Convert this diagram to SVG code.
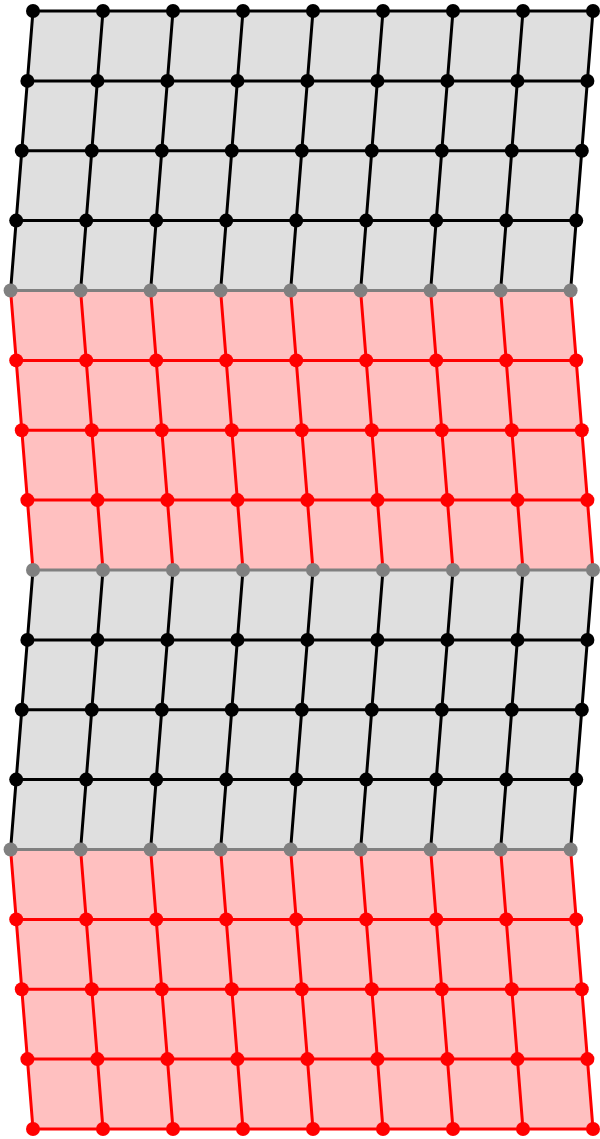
<svg xmlns="http://www.w3.org/2000/svg" width="600" height="1139" viewBox="0 0 600 1139">
<style>
.fg{fill:#dfdfdf;stroke:none}
.fp{fill:#ffc0c0;stroke:none}
line{stroke-width:3;stroke-linecap:round}
.lk{stroke:#000}
.lr{stroke:#ff0000}
.lg{stroke:#808080}
circle{r:7px}
.k{fill:#000}
.r{fill:#ff0000}
.g{fill:#808080}
</style>
<g id="regions">
<polygon class="fg" points="33,11 593,11 570.6,290.5 10.6,290.5"/>
<polygon class="fp" points="10.6,290.5 570.6,290.5 593,570 33,570"/>
<polygon class="fg" points="33,570 593,570 570.6,849.5 10.6,849.5"/>
<polygon class="fp" points="10.6,849.5 570.6,849.5 593,1129 33,1129"/>
</g>
<g id="connectors">
<g class="lk">
<line x1="33" y1="11" x2="10.6" y2="290.5"/><line x1="103" y1="11" x2="80.6" y2="290.5"/><line x1="173" y1="11" x2="150.6" y2="290.5"/><line x1="243" y1="11" x2="220.6" y2="290.5"/><line x1="313" y1="11" x2="290.6" y2="290.5"/><line x1="383" y1="11" x2="360.6" y2="290.5"/><line x1="453" y1="11" x2="430.6" y2="290.5"/><line x1="523" y1="11" x2="500.6" y2="290.5"/><line x1="593" y1="11" x2="570.6" y2="290.5"/>
<line x1="33" y1="570" x2="10.6" y2="849.5"/><line x1="103" y1="570" x2="80.6" y2="849.5"/><line x1="173" y1="570" x2="150.6" y2="849.5"/><line x1="243" y1="570" x2="220.6" y2="849.5"/><line x1="313" y1="570" x2="290.6" y2="849.5"/><line x1="383" y1="570" x2="360.6" y2="849.5"/><line x1="453" y1="570" x2="430.6" y2="849.5"/><line x1="523" y1="570" x2="500.6" y2="849.5"/><line x1="593" y1="570" x2="570.6" y2="849.5"/>
<line x1="33" y1="11" x2="593" y2="11"/>
<line x1="27.4" y1="80.9" x2="587.4" y2="80.9"/>
<line x1="21.8" y1="150.8" x2="581.8" y2="150.8"/>
<line x1="16.2" y1="220.6" x2="576.2" y2="220.6"/>
<line x1="27.4" y1="639.9" x2="587.4" y2="639.9"/>
<line x1="21.8" y1="709.8" x2="581.8" y2="709.8"/>
<line x1="16.2" y1="779.6" x2="576.2" y2="779.6"/>
</g>
<g class="lr">
<line x1="10.6" y1="290.5" x2="33" y2="570"/><line x1="80.6" y1="290.5" x2="103" y2="570"/><line x1="150.6" y1="290.5" x2="173" y2="570"/><line x1="220.6" y1="290.5" x2="243" y2="570"/><line x1="290.6" y1="290.5" x2="313" y2="570"/><line x1="360.6" y1="290.5" x2="383" y2="570"/><line x1="430.6" y1="290.5" x2="453" y2="570"/><line x1="500.6" y1="290.5" x2="523" y2="570"/><line x1="570.6" y1="290.5" x2="593" y2="570"/>
<line x1="10.6" y1="849.5" x2="33" y2="1129"/><line x1="80.6" y1="849.5" x2="103" y2="1129"/><line x1="150.6" y1="849.5" x2="173" y2="1129"/><line x1="220.6" y1="849.5" x2="243" y2="1129"/><line x1="290.6" y1="849.5" x2="313" y2="1129"/><line x1="360.6" y1="849.5" x2="383" y2="1129"/><line x1="430.6" y1="849.5" x2="453" y2="1129"/><line x1="500.6" y1="849.5" x2="523" y2="1129"/><line x1="570.6" y1="849.5" x2="593" y2="1129"/>
<line x1="16.2" y1="360.4" x2="576.2" y2="360.4"/>
<line x1="21.8" y1="430.3" x2="581.8" y2="430.3"/>
<line x1="27.4" y1="500.1" x2="587.4" y2="500.1"/>
<line x1="16.2" y1="919.4" x2="576.2" y2="919.4"/>
<line x1="21.8" y1="989.3" x2="581.8" y2="989.3"/>
<line x1="27.4" y1="1059.1" x2="587.4" y2="1059.1"/>
<line x1="33" y1="1129" x2="593" y2="1129"/>
</g>
<g class="lg">
<line x1="10.6" y1="290.5" x2="570.6" y2="290.5"/>
<line x1="33" y1="570" x2="593" y2="570"/>
<line x1="10.6" y1="849.5" x2="570.6" y2="849.5"/>
</g>
</g>
<g id="nodes">
<g id="n0_0"><circle class="k" cx="33" cy="11" r="7"/></g><g id="n0_1"><circle class="k" cx="103" cy="11" r="7"/></g><g id="n0_2"><circle class="k" cx="173" cy="11" r="7"/></g><g id="n0_3"><circle class="k" cx="243" cy="11" r="7"/></g><g id="n0_4"><circle class="k" cx="313" cy="11" r="7"/></g><g id="n0_5"><circle class="k" cx="383" cy="11" r="7"/></g><g id="n0_6"><circle class="k" cx="453" cy="11" r="7"/></g><g id="n0_7"><circle class="k" cx="523" cy="11" r="7"/></g><g id="n0_8"><circle class="k" cx="593" cy="11" r="7"/></g>
<g id="n1_0"><circle class="k" cx="27.4" cy="80.9" r="7"/></g><g id="n1_1"><circle class="k" cx="97.4" cy="80.9" r="7"/></g><g id="n1_2"><circle class="k" cx="167.4" cy="80.9" r="7"/></g><g id="n1_3"><circle class="k" cx="237.4" cy="80.9" r="7"/></g><g id="n1_4"><circle class="k" cx="307.4" cy="80.9" r="7"/></g><g id="n1_5"><circle class="k" cx="377.4" cy="80.9" r="7"/></g><g id="n1_6"><circle class="k" cx="447.4" cy="80.9" r="7"/></g><g id="n1_7"><circle class="k" cx="517.4" cy="80.9" r="7"/></g><g id="n1_8"><circle class="k" cx="587.4" cy="80.9" r="7"/></g>
<g id="n2_0"><circle class="k" cx="21.8" cy="150.8" r="7"/></g><g id="n2_1"><circle class="k" cx="91.8" cy="150.8" r="7"/></g><g id="n2_2"><circle class="k" cx="161.8" cy="150.8" r="7"/></g><g id="n2_3"><circle class="k" cx="231.8" cy="150.8" r="7"/></g><g id="n2_4"><circle class="k" cx="301.8" cy="150.8" r="7"/></g><g id="n2_5"><circle class="k" cx="371.8" cy="150.8" r="7"/></g><g id="n2_6"><circle class="k" cx="441.8" cy="150.8" r="7"/></g><g id="n2_7"><circle class="k" cx="511.8" cy="150.8" r="7"/></g><g id="n2_8"><circle class="k" cx="581.8" cy="150.8" r="7"/></g>
<g id="n3_0"><circle class="k" cx="16.2" cy="220.6" r="7"/></g><g id="n3_1"><circle class="k" cx="86.2" cy="220.6" r="7"/></g><g id="n3_2"><circle class="k" cx="156.2" cy="220.6" r="7"/></g><g id="n3_3"><circle class="k" cx="226.2" cy="220.6" r="7"/></g><g id="n3_4"><circle class="k" cx="296.2" cy="220.6" r="7"/></g><g id="n3_5"><circle class="k" cx="366.2" cy="220.6" r="7"/></g><g id="n3_6"><circle class="k" cx="436.2" cy="220.6" r="7"/></g><g id="n3_7"><circle class="k" cx="506.2" cy="220.6" r="7"/></g><g id="n3_8"><circle class="k" cx="576.2" cy="220.6" r="7"/></g>
<g id="n4_0"><circle class="g" cx="10.6" cy="290.5" r="7"/></g><g id="n4_1"><circle class="g" cx="80.6" cy="290.5" r="7"/></g><g id="n4_2"><circle class="g" cx="150.6" cy="290.5" r="7"/></g><g id="n4_3"><circle class="g" cx="220.6" cy="290.5" r="7"/></g><g id="n4_4"><circle class="g" cx="290.6" cy="290.5" r="7"/></g><g id="n4_5"><circle class="g" cx="360.6" cy="290.5" r="7"/></g><g id="n4_6"><circle class="g" cx="430.6" cy="290.5" r="7"/></g><g id="n4_7"><circle class="g" cx="500.6" cy="290.5" r="7"/></g><g id="n4_8"><circle class="g" cx="570.6" cy="290.5" r="7"/></g>
<g id="n5_0"><circle class="r" cx="16.2" cy="360.4" r="7"/></g><g id="n5_1"><circle class="r" cx="86.2" cy="360.4" r="7"/></g><g id="n5_2"><circle class="r" cx="156.2" cy="360.4" r="7"/></g><g id="n5_3"><circle class="r" cx="226.2" cy="360.4" r="7"/></g><g id="n5_4"><circle class="r" cx="296.2" cy="360.4" r="7"/></g><g id="n5_5"><circle class="r" cx="366.2" cy="360.4" r="7"/></g><g id="n5_6"><circle class="r" cx="436.2" cy="360.4" r="7"/></g><g id="n5_7"><circle class="r" cx="506.2" cy="360.4" r="7"/></g><g id="n5_8"><circle class="r" cx="576.2" cy="360.4" r="7"/></g>
<g id="n6_0"><circle class="r" cx="21.8" cy="430.3" r="7"/></g><g id="n6_1"><circle class="r" cx="91.8" cy="430.3" r="7"/></g><g id="n6_2"><circle class="r" cx="161.8" cy="430.3" r="7"/></g><g id="n6_3"><circle class="r" cx="231.8" cy="430.3" r="7"/></g><g id="n6_4"><circle class="r" cx="301.8" cy="430.3" r="7"/></g><g id="n6_5"><circle class="r" cx="371.8" cy="430.3" r="7"/></g><g id="n6_6"><circle class="r" cx="441.8" cy="430.3" r="7"/></g><g id="n6_7"><circle class="r" cx="511.8" cy="430.3" r="7"/></g><g id="n6_8"><circle class="r" cx="581.8" cy="430.3" r="7"/></g>
<g id="n7_0"><circle class="r" cx="27.4" cy="500.1" r="7"/></g><g id="n7_1"><circle class="r" cx="97.4" cy="500.1" r="7"/></g><g id="n7_2"><circle class="r" cx="167.4" cy="500.1" r="7"/></g><g id="n7_3"><circle class="r" cx="237.4" cy="500.1" r="7"/></g><g id="n7_4"><circle class="r" cx="307.4" cy="500.1" r="7"/></g><g id="n7_5"><circle class="r" cx="377.4" cy="500.1" r="7"/></g><g id="n7_6"><circle class="r" cx="447.4" cy="500.1" r="7"/></g><g id="n7_7"><circle class="r" cx="517.4" cy="500.1" r="7"/></g><g id="n7_8"><circle class="r" cx="587.4" cy="500.1" r="7"/></g>
<g id="n8_0"><circle class="g" cx="33" cy="570" r="7"/></g><g id="n8_1"><circle class="g" cx="103" cy="570" r="7"/></g><g id="n8_2"><circle class="g" cx="173" cy="570" r="7"/></g><g id="n8_3"><circle class="g" cx="243" cy="570" r="7"/></g><g id="n8_4"><circle class="g" cx="313" cy="570" r="7"/></g><g id="n8_5"><circle class="g" cx="383" cy="570" r="7"/></g><g id="n8_6"><circle class="g" cx="453" cy="570" r="7"/></g><g id="n8_7"><circle class="g" cx="523" cy="570" r="7"/></g><g id="n8_8"><circle class="g" cx="593" cy="570" r="7"/></g>
<g id="n9_0"><circle class="k" cx="27.4" cy="639.9" r="7"/></g><g id="n9_1"><circle class="k" cx="97.4" cy="639.9" r="7"/></g><g id="n9_2"><circle class="k" cx="167.4" cy="639.9" r="7"/></g><g id="n9_3"><circle class="k" cx="237.4" cy="639.9" r="7"/></g><g id="n9_4"><circle class="k" cx="307.4" cy="639.9" r="7"/></g><g id="n9_5"><circle class="k" cx="377.4" cy="639.9" r="7"/></g><g id="n9_6"><circle class="k" cx="447.4" cy="639.9" r="7"/></g><g id="n9_7"><circle class="k" cx="517.4" cy="639.9" r="7"/></g><g id="n9_8"><circle class="k" cx="587.4" cy="639.9" r="7"/></g>
<g id="n10_0"><circle class="k" cx="21.8" cy="709.8" r="7"/></g><g id="n10_1"><circle class="k" cx="91.8" cy="709.8" r="7"/></g><g id="n10_2"><circle class="k" cx="161.8" cy="709.8" r="7"/></g><g id="n10_3"><circle class="k" cx="231.8" cy="709.8" r="7"/></g><g id="n10_4"><circle class="k" cx="301.8" cy="709.8" r="7"/></g><g id="n10_5"><circle class="k" cx="371.8" cy="709.8" r="7"/></g><g id="n10_6"><circle class="k" cx="441.8" cy="709.8" r="7"/></g><g id="n10_7"><circle class="k" cx="511.8" cy="709.8" r="7"/></g><g id="n10_8"><circle class="k" cx="581.8" cy="709.8" r="7"/></g>
<g id="n11_0"><circle class="k" cx="16.2" cy="779.6" r="7"/></g><g id="n11_1"><circle class="k" cx="86.2" cy="779.6" r="7"/></g><g id="n11_2"><circle class="k" cx="156.2" cy="779.6" r="7"/></g><g id="n11_3"><circle class="k" cx="226.2" cy="779.6" r="7"/></g><g id="n11_4"><circle class="k" cx="296.2" cy="779.6" r="7"/></g><g id="n11_5"><circle class="k" cx="366.2" cy="779.6" r="7"/></g><g id="n11_6"><circle class="k" cx="436.2" cy="779.6" r="7"/></g><g id="n11_7"><circle class="k" cx="506.2" cy="779.6" r="7"/></g><g id="n11_8"><circle class="k" cx="576.2" cy="779.6" r="7"/></g>
<g id="n12_0"><circle class="g" cx="10.6" cy="849.5" r="7"/></g><g id="n12_1"><circle class="g" cx="80.6" cy="849.5" r="7"/></g><g id="n12_2"><circle class="g" cx="150.6" cy="849.5" r="7"/></g><g id="n12_3"><circle class="g" cx="220.6" cy="849.5" r="7"/></g><g id="n12_4"><circle class="g" cx="290.6" cy="849.5" r="7"/></g><g id="n12_5"><circle class="g" cx="360.6" cy="849.5" r="7"/></g><g id="n12_6"><circle class="g" cx="430.6" cy="849.5" r="7"/></g><g id="n12_7"><circle class="g" cx="500.6" cy="849.5" r="7"/></g><g id="n12_8"><circle class="g" cx="570.6" cy="849.5" r="7"/></g>
<g id="n13_0"><circle class="r" cx="16.2" cy="919.4" r="7"/></g><g id="n13_1"><circle class="r" cx="86.2" cy="919.4" r="7"/></g><g id="n13_2"><circle class="r" cx="156.2" cy="919.4" r="7"/></g><g id="n13_3"><circle class="r" cx="226.2" cy="919.4" r="7"/></g><g id="n13_4"><circle class="r" cx="296.2" cy="919.4" r="7"/></g><g id="n13_5"><circle class="r" cx="366.2" cy="919.4" r="7"/></g><g id="n13_6"><circle class="r" cx="436.2" cy="919.4" r="7"/></g><g id="n13_7"><circle class="r" cx="506.2" cy="919.4" r="7"/></g><g id="n13_8"><circle class="r" cx="576.2" cy="919.4" r="7"/></g>
<g id="n14_0"><circle class="r" cx="21.8" cy="989.3" r="7"/></g><g id="n14_1"><circle class="r" cx="91.8" cy="989.3" r="7"/></g><g id="n14_2"><circle class="r" cx="161.8" cy="989.3" r="7"/></g><g id="n14_3"><circle class="r" cx="231.8" cy="989.3" r="7"/></g><g id="n14_4"><circle class="r" cx="301.8" cy="989.3" r="7"/></g><g id="n14_5"><circle class="r" cx="371.8" cy="989.3" r="7"/></g><g id="n14_6"><circle class="r" cx="441.8" cy="989.3" r="7"/></g><g id="n14_7"><circle class="r" cx="511.8" cy="989.3" r="7"/></g><g id="n14_8"><circle class="r" cx="581.8" cy="989.3" r="7"/></g>
<g id="n15_0"><circle class="r" cx="27.4" cy="1059.1" r="7"/></g><g id="n15_1"><circle class="r" cx="97.4" cy="1059.1" r="7"/></g><g id="n15_2"><circle class="r" cx="167.4" cy="1059.1" r="7"/></g><g id="n15_3"><circle class="r" cx="237.4" cy="1059.1" r="7"/></g><g id="n15_4"><circle class="r" cx="307.4" cy="1059.1" r="7"/></g><g id="n15_5"><circle class="r" cx="377.4" cy="1059.1" r="7"/></g><g id="n15_6"><circle class="r" cx="447.4" cy="1059.1" r="7"/></g><g id="n15_7"><circle class="r" cx="517.4" cy="1059.1" r="7"/></g><g id="n15_8"><circle class="r" cx="587.4" cy="1059.1" r="7"/></g>
<g id="n16_0"><circle class="r" cx="33" cy="1129" r="7"/></g><g id="n16_1"><circle class="r" cx="103" cy="1129" r="7"/></g><g id="n16_2"><circle class="r" cx="173" cy="1129" r="7"/></g><g id="n16_3"><circle class="r" cx="243" cy="1129" r="7"/></g><g id="n16_4"><circle class="r" cx="313" cy="1129" r="7"/></g><g id="n16_5"><circle class="r" cx="383" cy="1129" r="7"/></g><g id="n16_6"><circle class="r" cx="453" cy="1129" r="7"/></g><g id="n16_7"><circle class="r" cx="523" cy="1129" r="7"/></g><g id="n16_8"><circle class="r" cx="593" cy="1129" r="7"/></g>
</g>
</svg>
